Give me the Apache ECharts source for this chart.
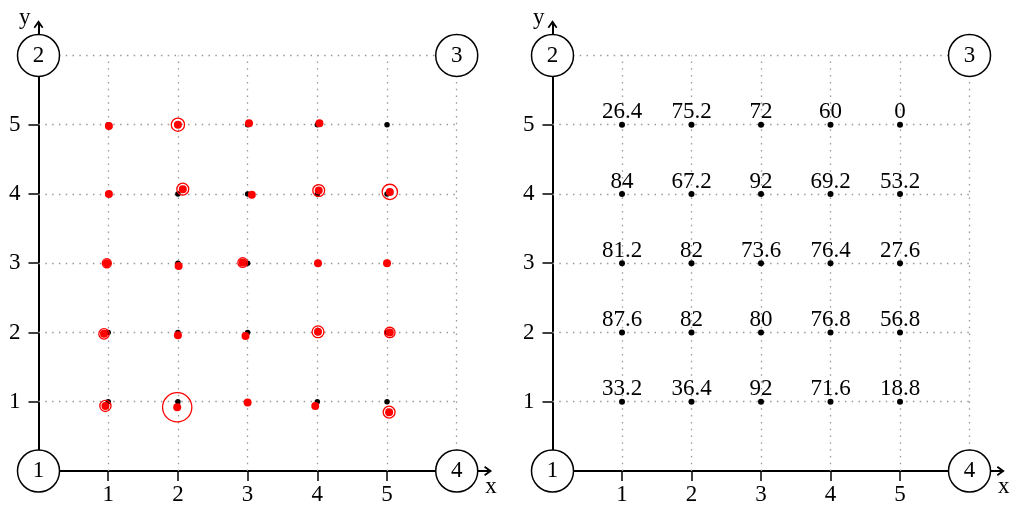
<!DOCTYPE html>
<html><head><meta charset="utf-8">
<script src="https://cdn.jsdelivr.net/npm/echarts@6/dist/echarts.min.js"></script>
<style>html,body{margin:0;padding:0;background:#fff}#c{width:1024px;height:517px}</style>
</head><body><div id="c"></div>
<script>
// ---- data ----
const xTicks = [1, 2, 3, 4, 5];
const yTicks = [1, 2, 3, 4, 5];
const gridLineValues = [1, 2, 3, 4, 5, 6];
const axisEnd = 6;
const cornerLabels = ['1', '2', '3', '4'];
const cornerPoints = [[0, 0], [0, 6], [6, 6], [6, 0]];

// left panel: red (perturbed) points, row by row y=1..5 ; ring radius in axis units (0 = no ring)
const redX = [0.96, 1.99, 3.00, 3.97, 5.03,
              0.94, 2.00, 2.97, 4.01, 5.04,
              0.98, 2.01, 2.93, 4.01, 5.00,
              1.01, 2.07, 3.06, 4.02, 5.04,
              1.01, 2.00, 3.02, 4.03];
const redY = [0.94, 0.92, 0.99, 0.94, 0.85,
              1.98, 1.96, 1.95, 2.01, 2.00,
              3.00, 2.96, 3.01, 3.00, 3.00,
              4.00, 4.07, 3.99, 4.05, 4.03,
              4.98, 5.00, 5.02, 5.02];
const ringRadius = [0.08, 0.21, 0, 0, 0.085,
                    0.075, 0, 0, 0.085, 0.075,
                    0.065, 0, 0.07, 0, 0,
                    0, 0.085, 0, 0.085, 0.11,
                    0, 0.095, 0, 0];

// right panel: values at each grid point, rows y=1..5, columns x=1..5
const valuesRow1 = [33.2, 36.4, 92, 71.6, 18.8];
const valuesRow2 = [87.6, 82, 80, 76.8, 56.8];
const valuesRow3 = [81.2, 82, 73.6, 76.4, 27.6];
const valuesRow4 = [84, 67.2, 92, 69.2, 53.2];
const valuesRow5 = [26.4, 75.2, 72, 60, 0];
const valueRows = [valuesRow1, valuesRow2, valuesRow3, valuesRow4, valuesRow5];

// ---- build ----
const FONT = 'Liberation Serif';
const gridPts = [];
yTicks.forEach(y => xTicks.forEach(x => gridPts.push([x, y])));
const redPts = redX.map((x, i) => [x, redY[i], ringRadius[i]]);
const labeledPts = [];
yTicks.forEach((y, j) => xTicks.forEach((x, i) => labeledPts.push([x, y, valueRows[j][i]])));
const gridLines = [];
gridLineValues.forEach(t => {
  gridLines.push({coords: [[t, 0], [t, axisEnd]]});
  gridLines.push({coords: [[0, t], [axisEnd, t]]});
});
const cornerData = cornerPoints.map((p, i) => [p[0], p[1], cornerLabels[i]]);

const arrowPath = 'path://M5,0 L10,7.2 L8.6,8.2 L5,3.4 L1.4,8.2 L0,7.2 Z';
const AXMAX = 6.45;

function xAxisCfg(gi) {
  return {
    gridIndex: gi, type: 'value', min: 0, max: AXMAX,
    splitLine: {show: false},
    axisLine: {show: true, onZero: false, symbol: ['none', arrowPath], symbolSize: [10, 8],
      lineStyle: {color: '#000', width: 2}},
    axisTick: {show: true, customValues: xTicks, length: 10, lineStyle: {color: '#000', width: 1.5}},
    axisLabel: {customValues: xTicks, margin: 12, fontSize: 23, fontFamily: FONT, color: '#000',
      formatter: v => xTicks.includes(v) ? String(v) : ''},
    name: 'x', nameLocation: 'end', nameGap: 3,
    nameTextStyle: {fontSize: 23, fontFamily: FONT, color: '#000', align: 'center', verticalAlign: 'top',
      padding: [4, 0, 0, 0]}
  };
}
function yAxisCfg(gi) {
  return {
    gridIndex: gi, type: 'value', min: 0, max: AXMAX,
    splitLine: {show: false},
    axisLine: {show: true, onZero: false, symbol: ['none', arrowPath], symbolSize: [10, 8],
      lineStyle: {color: '#000', width: 2}},
    axisTick: {show: true, customValues: yTicks, length: 10, lineStyle: {color: '#000', width: 1.5}},
    axisLabel: {customValues: yTicks, margin: 18, fontSize: 23, fontFamily: FONT, color: '#000',
      formatter: v => yTicks.includes(v) ? String(v) : ''},
    name: 'y', nameLocation: 'end', nameGap: 6,
    nameTextStyle: {fontSize: 23, fontFamily: FONT, color: '#000', align: 'right', verticalAlign: 'middle',
      padding: [0, 8, 0, 0]}
  };
}
function gridLineSeries(gi) {
  return {type: 'lines', coordinateSystem: 'cartesian2d', xAxisIndex: gi, yAxisIndex: gi,
    polyline: false, silent: true, z: 1, data: gridLines,
    lineStyle: {color: '#999', width: 1.3, type: [1.5, 5.3], opacity: 1}};
}
function cornerSeries(gi) {
  return {type: 'scatter', xAxisIndex: gi, yAxisIndex: gi, data: cornerData, clip: false,
    symbol: 'circle', symbolSize: 42, z: 10, silent: true,
    itemStyle: {color: '#fff', borderColor: '#000', borderWidth: 1.5, opacity: 1},
    label: {show: true, position: 'inside', formatter: p => p.value[2], fontSize: 23,
      fontFamily: FONT, color: '#000'}};
}

const chart = echarts.init(document.getElementById('c'), null, {renderer: 'canvas'});
chart.setOption({
  backgroundColor: '#fff',
  animation: false,
  grid: [
    {left: 38.5, top: 24.3, width: 449.6, height: 446.7, outerBoundsMode: 'none', containLabel: false},
    {left: 552.5, top: 24.3, width: 448.3, height: 446.7, outerBoundsMode: 'none', containLabel: false}
  ],
  xAxis: [xAxisCfg(0), xAxisCfg(1)],
  yAxis: [yAxisCfg(0), yAxisCfg(1)],
  series: [
    gridLineSeries(0),
    {type: 'scatter', xAxisIndex: 0, yAxisIndex: 0, data: gridPts, symbolSize: 5.5, z: 3,
      itemStyle: {color: '#000', opacity: 1}},
    {type: 'scatter', xAxisIndex: 0, yAxisIndex: 0, data: redPts, symbolSize: 8, z: 4,
      itemStyle: {color: '#ff0000', opacity: 1}},
    {type: 'custom', xAxisIndex: 0, yAxisIndex: 0, data: redPts, z: 4, silent: true,
      renderItem: function (params, api) {
        const r = api.value(2);
        if (!r) return null;
        const c = api.coord([api.value(0), api.value(1)]);
        const s = api.size([r, r]);
        return {type: 'circle', shape: {cx: c[0], cy: c[1], r: s[0]},
          style: {fill: 'none', stroke: '#ff0000', lineWidth: 1.3}};
      }},
    cornerSeries(0),
    gridLineSeries(1),
    {type: 'scatter', xAxisIndex: 1, yAxisIndex: 1, data: labeledPts, symbolSize: 6, z: 3,
      itemStyle: {color: '#000', opacity: 1},
      label: {show: true, position: 'top', distance: -2, formatter: p => String(p.value[2]),
        fontSize: 23, fontFamily: FONT, color: '#000'}},
    cornerSeries(1)
  ]
});
</script></body></html>
